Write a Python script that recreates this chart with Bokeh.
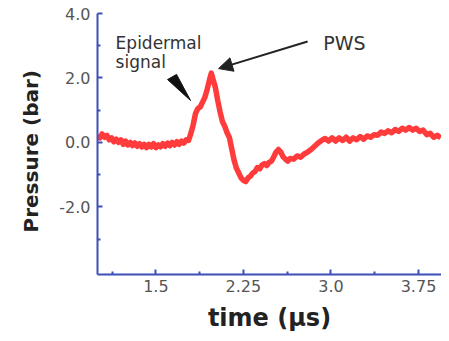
from bokeh.plotting import figure
from bokeh.embed import file_html
from bokeh.resources import INLINE
from bokeh.models import FixedTicker, CustomJSTickFormatter, Range1d, Arrow, NormalHead, Title
from bokeh.core.properties import value

time_us = [1.00, 1.02, 1.04, 1.06, 1.08, 1.10, 1.12, 1.14, 1.16, 1.18, 1.20, 1.22, 1.24, 1.26,
           1.28, 1.30, 1.32, 1.34, 1.36, 1.38, 1.40, 1.42, 1.44, 1.46, 1.48, 1.50, 1.52, 1.54,
           1.56, 1.58, 1.60, 1.62, 1.64, 1.66, 1.68, 1.70, 1.72, 1.74, 1.76, 1.78, 1.80,
           1.82, 1.84, 1.86, 1.88, 1.90, 1.92, 1.94, 1.96, 1.975, 1.99, 2.01, 2.03, 2.05, 2.07,
           2.09, 2.11, 2.13, 2.15, 2.17, 2.19, 2.21, 2.23, 2.25, 2.27, 2.29, 2.31, 2.33, 2.35,
           2.37, 2.39, 2.41, 2.43, 2.45, 2.47, 2.49, 2.51, 2.53, 2.55, 2.57, 2.59, 2.61, 2.63,
           2.65, 2.68, 2.71, 2.74, 2.77, 2.80, 2.83, 2.86, 2.89, 2.92, 2.95, 2.98, 3.01, 3.04,
           3.07, 3.10, 3.13, 3.16, 3.19, 3.22, 3.25, 3.28, 3.31, 3.34, 3.37, 3.40, 3.43, 3.46,
           3.49, 3.52, 3.55, 3.58, 3.61, 3.64, 3.67, 3.70, 3.73, 3.76, 3.79, 3.82, 3.85, 3.88,
           3.91, 3.94]
pressure_bar = [0.22, 0.14, 0.26, 0.16, 0.22, 0.08, 0.14, 0.02, 0.10, 0.00, 0.08, -0.06, 0.04, -0.08,
                0.00, -0.10, -0.02, -0.12, -0.04, -0.14, -0.06, -0.16, -0.06, -0.14, -0.04, -0.16, -0.08, -0.14,
                -0.04, -0.12, -0.02, -0.10, 0.00, -0.08, 0.02, -0.06, 0.04, -0.02, 0.08, 0.06, 0.28,
                0.55, 0.90, 1.05, 1.10, 1.25, 1.40, 1.65, 1.95, 2.15, 1.95, 1.70, 1.30, 0.95, 0.65,
                0.50, 0.30, 0.15, -0.20, -0.55, -0.80, -0.95, -1.10, -1.18, -1.22, -1.10, -1.05, -0.95, -0.90,
                -0.78, -0.82, -0.70, -0.66, -0.72, -0.62, -0.58, -0.45, -0.30, -0.22, -0.30, -0.45, -0.52, -0.58,
                -0.50, -0.52, -0.42, -0.46, -0.36, -0.30, -0.22, -0.12, -0.02, 0.06, 0.12, 0.04, 0.14, 0.04,
                0.14, 0.06, 0.16, 0.04, 0.14, 0.08, 0.18, 0.10, 0.20, 0.16, 0.24, 0.22, 0.32, 0.28,
                0.36, 0.30, 0.40, 0.34, 0.44, 0.38, 0.46, 0.38, 0.44, 0.34, 0.38, 0.24, 0.28, 0.16,
                0.22, 0.14]

x_ticks = [1.5, 2.25, 3.0, 3.75]
x_minor = [1.125, 1.875, 2.625, 3.375]
y_ticks = [-2.0, 0.0, 2.0, 4.0]
y_minor = [-3.0, -1.0, 1.0, 3.0]

label_epi = ["Epidermal", "signal"]
label_pws = "PWS"
y_label = "Pressure (bar)"
x_label = "time (μs)"

# annotation geometry (data units)
epi_text_x = 1.155
epi_text_y = [3.08, 2.49]
epi_wedge_x = [1.600, 1.677, 1.797]
epi_wedge_y = [1.95, 2.11, 1.30]
pws_text_x = 2.935
pws_text_y = 3.08
pws_arrow = (2.80, 3.13, 2.037, 2.29)

axis_blue = "#3d4fb8"
red = "#ff3b3b"

p = figure(width=441, height=335, output_backend="svg", toolbar_location=None,
           x_range=Range1d(1.0, 3.947), y_range=Range1d(-4.1, 4.0),
           min_border_left=97, min_border_right=0, min_border_top=13, min_border_bottom=61)
p.outline_line_color = None
p.grid.visible = False
p.background_fill_color = "white"
p.border_fill_color = "white"

p.line(time_us, pressure_bar, line_color=red, line_width=5.5, line_join="round")

p.patch(epi_wedge_x, epi_wedge_y, fill_color="#111111", line_color="#111111", line_width=1)
p.text([epi_text_x, epi_text_x], epi_text_y, text=label_epi, text_font=value("DejaVu Sans"),
       text_font_size="17px", text_color="#333333", text_baseline="alphabetic")
p.text([pws_text_x], [pws_text_y], text=[label_pws], text_font=value("DejaVu Sans"),
       text_font_size="19px", text_color="#333333", text_baseline="alphabetic")
p.add_layout(Arrow(x_start=pws_arrow[0], y_start=pws_arrow[1], x_end=pws_arrow[2], y_end=pws_arrow[3],
                   line_color="#222222", line_width=2,
                   end=NormalHead(size=14, fill_color="#222222", line_color="#222222")))

xa = p.xaxis[0]
xa.ticker = FixedTicker(ticks=x_ticks, minor_ticks=x_minor)
xa.formatter = CustomJSTickFormatter(code="return (Math.abs(tick-2.25)<1e-6||Math.abs(tick-3.75)<1e-6) ? tick.toFixed(2) : tick.toFixed(1);")
xa.axis_label = x_label
ya = p.yaxis[0]
ya.ticker = FixedTicker(ticks=y_ticks, minor_ticks=y_minor)
ya.formatter = CustomJSTickFormatter(code="return tick.toFixed(1);")

for ax in (xa, ya):
    ax.axis_line_color = axis_blue
    ax.axis_line_width = 2
    ax.major_tick_line_color = axis_blue
    ax.minor_tick_line_color = axis_blue
    ax.major_tick_line_width = 2
    ax.minor_tick_line_width = 2
    ax.major_tick_in = 5
    ax.major_tick_out = 0
    ax.minor_tick_in = 3
    ax.minor_tick_out = 0
    ax.major_label_text_font = "DejaVu Sans"
    ax.major_label_text_font_size = "16px"
    ax.major_label_text_color = "#555555"
    ax.axis_label_text_font = "DejaVu Sans"
    ax.axis_label_text_font_style = "bold"
    ax.axis_label_text_color = "#222222"

xa.major_label_standoff = 5
xa.axis_label_text_font_size = "24px"
xa.axis_label_standoff = 9
ya.major_label_standoff = 7

p.add_layout(Title(text=y_label, align="left", offset=42, standoff=27,
                   text_font="DejaVu Sans", text_font_style="bold", text_font_size="20px",
                   text_color="#222222"), "left")

open("out.html", "w").write(file_html(p, INLINE))
